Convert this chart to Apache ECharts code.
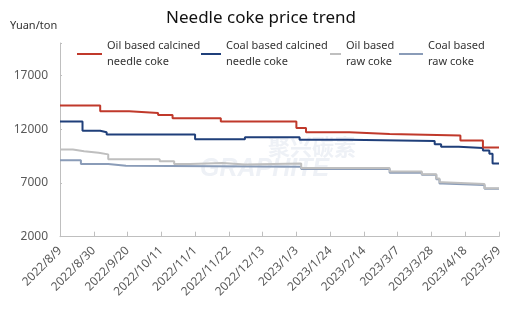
<!DOCTYPE html>
<html><head><meta charset="utf-8">
<script src="https://cdn.jsdelivr.net/npm/echarts@6/dist/echarts.min.js"></script>
<style>html,body{margin:0;padding:0;background:#fff}#c{width:522px;height:322px}</style>
</head><body><div id="c"></div>
<script>
const chartTitle = 'Needle coke price trend';
const unitLabel = 'Yuan/ton';
const startDate = '2022/8/9';
const endDate = '2023/5/9';
const tickDays = 21;
const yTicks = [2000, 7000, 12000, 17000];
const seriesNames = ['Oil based calcined needle coke', 'Coal based calcined needle coke', 'Oil based raw coke', 'Coal based raw coke'];
const legendLabels = ['Oil based calcined\nneedle coke', 'Coal based calcined\nneedle coke', 'Oil based\nraw coke', 'Coal based\nraw coke'];

// [date a price level starts, price]
const oilCalcined = [
  ['2022/8/9',14200],['2022/9/3',13650],['2022/9/21',13500],['2022/10/9',13300],['2022/10/18',13000],
  ['2022/11/17',12700],['2023/1/3',12100],['2023/1/9',11700],['2023/2/5',11550],['2023/3/2',11400],
  ['2023/4/15',10950],['2023/4/29',10300],['2023/5/9',10300]
];
const coalCalcined = [
  ['2022/8/9',12700],['2022/8/23',11850],['2022/9/3',11700],['2022/9/7',11500],['2022/11/1',11050],
  ['2022/12/2',11250],['2023/1/5',11000],['2023/2/4',10900],['2023/3/30',10600],['2023/4/3',10350],
  ['2023/4/14',10250],['2023/4/29',10000],['2023/5/3',9700],['2023/5/5',8800],['2023/5/9',8800]
];
const oilRaw = [
  ['2022/8/9',10100],['2022/8/17',9950],['2022/8/24',9800],['2022/9/2',9650],['2022/9/8',9200],
  ['2022/10/10',9000],['2022/10/19',8750],['2022/10/29',8850],['2022/11/18',8700],['2022/12/2',8800],
  ['2023/1/6',8380],['2023/3/2',8050],['2023/3/22',7800],['2023/3/31',7400],['2023/4/2',7050],
  ['2023/4/4',6900],['2023/4/30',6500],['2023/5/9',6500]
];
const coalRaw = [
  ['2022/8/9',9100],['2022/8/22',8750],['2022/9/8',8600],['2022/9/19',8500],['2023/1/6',8280],
  ['2023/3/2',7950],['2023/3/22',7750],['2023/3/31',7350],['2023/4/2',6950],['2023/4/4',6800],
  ['2023/4/30',6450],['2023/5/9',6450]
];
const seriesData = [oilCalcined, coalCalcined, oilRaw, coalRaw];
const seriesColors = ['#C0392B', '#1F3F7A', '#BFBFBF', '#8A9CB8'];

function parseDay(s){const p=s.split('/').map(Number);return Date.UTC(p[0],p[1]-1,p[2]);}
const t0 = parseDay(startDate);
const DAY = 86400000;
function offset(s){return Math.round((parseDay(s)-t0)/DAY);}
function fmtDay(v){const d=new Date(t0+v*DAY);return d.getUTCFullYear()+'/'+(d.getUTCMonth()+1)+'/'+d.getUTCDate();}

const FONT = '"Noto Sans", sans-serif';
const legendPos = [{left:72,w:25},{left:196,w:20},{left:325,w:11},{left:394,w:24}];

const chart = echarts.init(document.getElementById('c'), null, {renderer:'canvas'});
chart.setOption({
  animation:false,
  backgroundColor:'#fff',
  title:{text:chartTitle,left:'center',top:5,textStyle:{fontFamily:FONT,fontSize:17,fontWeight:'normal',color:'#111'}},
  graphic:[
    {type:'text',left:10,top:20,style:{text:unitLabel,font:'11px "Noto Sans", sans-serif',fill:'#333'}},
    {type:'text',left:268,top:136,z:-1,style:{text:'聚兴碳素',font:'bold 22px "Noto Sans CJK SC"',fill:'#eef1f6'}},
    {type:'text',left:200,top:157,z:-1,style:{text:'GRAPHITE',font:'italic bold 25px "Liberation Sans"',fill:'#eef1f6'}}
  ],
  legend: seriesNames.map((n,i)=>({
    data:[n], left:legendPos[i].left, top:29, itemWidth:legendPos[i].w, itemHeight:2, icon:'rect',
    itemStyle:{color:seriesColors[i]},
    formatter:()=>legendLabels[i],
    textStyle:{fontFamily:FONT,fontSize:11,color:'#333',lineHeight:16,padding:[8,0,0,0]}
  })),
  grid:{left:60,right:23,top:43,bottom:85.3},
  xAxis:{
    type:'value',min:0,max:offset(endDate),interval:tickDays,
    axisLine:{lineStyle:{color:'#BFBFBF',width:1}},
    axisTick:{inside:true,length:5,lineStyle:{color:'#BFBFBF'}},
    splitLine:{show:false},
    axisLabel:{rotate:45,margin:12,fontFamily:FONT,fontSize:12,color:'#595959',formatter:fmtDay}
  },
  yAxis:{
    type:'value',min:yTicks[0],max:20000,interval:yTicks[1]-yTicks[0],
    axisLine:{show:true,lineStyle:{color:'#BFBFBF',width:1}},
    axisTick:{show:true,inside:true,length:2,lineStyle:{color:'#BFBFBF'}},
    splitLine:{show:false},
    axisLabel:{margin:12,fontFamily:FONT,fontSize:12,color:'#595959',formatter:v=>yTicks.includes(v)?String(v):''}
  },
  series: seriesNames.map((n,i)=>({
    name:n,type:'line',step:'end',showSymbol:false,symbol:'none',
    lineStyle:{width:2,color:seriesColors[i]},itemStyle:{color:seriesColors[i]},
    z: 10-i,
    data: seriesData[i].map(p=>[offset(p[0]),p[1]])
  }))
});
</script></body></html>
